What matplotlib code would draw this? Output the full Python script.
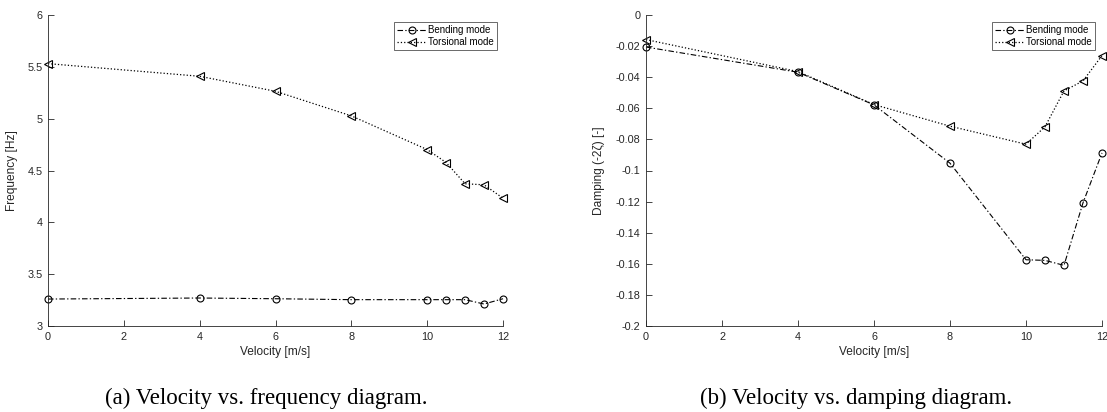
import matplotlib
matplotlib.use("Agg")
import matplotlib.pyplot as plt

velocity = [0, 4, 6, 8, 10, 10.5, 11, 11.5, 12]
freq_bending = [3.26, 3.27, 3.263, 3.254, 3.254, 3.254, 3.254, 3.212, 3.263]
freq_torsional = [5.531, 5.409, 5.264, 5.027, 4.702, 4.577, 4.372, 4.362, 4.233]
damp_bending = [-0.0206, -0.0368, -0.0578, -0.0953, -0.1574, -0.1578, -0.161, -0.1208, -0.0887]
damp_torsional = [-0.0158, -0.0364, -0.0576, -0.0715, -0.0831, -0.0719, -0.0488, -0.0424, -0.0261]
xticks = [0, 2, 4, 6, 8, 10, 12]
freq_ticks = [3, 3.5, 4, 4.5, 5, 5.5, 6]
freq_ticklabels = ["3", "3.5", "4", "4.5", "5", "5.5", "6"]
damp_ticks = [0, -0.02, -0.04, -0.06, -0.08, -0.1, -0.12, -0.14, -0.16, -0.18, -0.2]
damp_ticklabels = ["0", "-0.02", "-0.04", "-0.06", "-0.08", "-0.1", "-0.12", "-0.14", "-0.16", "-0.18", "-0.2"]

W, H = 1107, 412
fig = plt.figure(figsize=(W / 100, H / 100), dpi=100)
plt.rcParams['font.family'] = ['Liberation Sans', 'DejaVu Sans']

axcol = '#262626'
dashdot = (0, (5, 2, 1.2, 2))

def make_axes(x0, x1, ytop, ybot):
    return fig.add_axes([x0 / W, (H - ybot) / H, (x1 - x0) / W, (ybot - ytop) / H])

def style(ax):
    for s in ['top', 'right']:
        ax.spines[s].set_visible(False)
    for s in ['left', 'bottom']:
        ax.spines[s].set_color(axcol)
        ax.spines[s].set_linewidth(0.6)
    ax.tick_params(direction='in', length=4, width=0.6, colors=axcol, labelsize=7.8, pad=4)
    ax.set_xticks(xticks)
    ax.set_xticklabels([str(t) for t in xticks])
    ax.set_xlim(0, 12)
    ax.set_xlabel('Velocity [m/s]', fontsize=8.6, color=axcol, labelpad=3)

def plot_series(ax, yb, yt):
    ax.plot(velocity, yb, color='k', linestyle=dashdot, linewidth=0.8, marker='o',
            markersize=5, markerfacecolor='none', markeredgewidth=0.8, label='Bending mode', clip_on=False)
    ax.plot(velocity, yt, color='k', linestyle=':', linewidth=0.9, marker='<',
            markersize=5.5, markerfacecolor='none', markeredgewidth=0.8, label='Torsional mode', clip_on=False)

ax1 = make_axes(48, 503, 15, 326)
plot_series(ax1, freq_bending, freq_torsional)
style(ax1)
ax1.set_ylim(3, 6)
ax1.set_yticks(freq_ticks)
ax1.set_yticklabels(freq_ticklabels)
ax1.set_ylabel('Frequency [Hz]', fontsize=8.6, color=axcol)
ax1.yaxis.set_label_coords((18 - 48) / 455, 0.5)

ax2 = make_axes(646, 1102, 15, 326)
plot_series(ax2, damp_bending, damp_torsional)
style(ax2)
ax2.set_ylim(-0.2, 0)
ax2.set_yticks(damp_ticks)
ax2.set_yticklabels(damp_ticklabels)
ax2.set_ylabel('Damping (-2ζ) [-]', fontsize=8.6, color=axcol)
ax2.yaxis.set_label_coords((605 - 646) / 456, 0.5)

def legend(ax, x1, y0):
    leg = ax.legend(loc='upper right', bbox_to_anchor=(x1 / W, (H - y0) / H),
                    bbox_transform=fig.transFigure, fontsize=7, frameon=True, fancybox=False,
                    handlelength=3.0, handletextpad=0.2, borderpad=0.3, labelspacing=0.25,
                    borderaxespad=0)
    leg.get_frame().set_edgecolor(axcol)
    leg.get_frame().set_linewidth(0.6)
    return leg

legend(ax1, 497, 22)
legend(ax2, 1095, 22)

fig.text(266 / W, (H - 398) / H, '(a) Velocity vs. frequency diagram.', ha='center', va='center',
         fontsize=16.5, family='Liberation Serif')
fig.text(856 / W, (H - 398) / H, '(b) Velocity vs. damping diagram.', ha='center', va='center',
         fontsize=16.5, family='Liberation Serif')

fig.savefig('out.png', dpi=100)
